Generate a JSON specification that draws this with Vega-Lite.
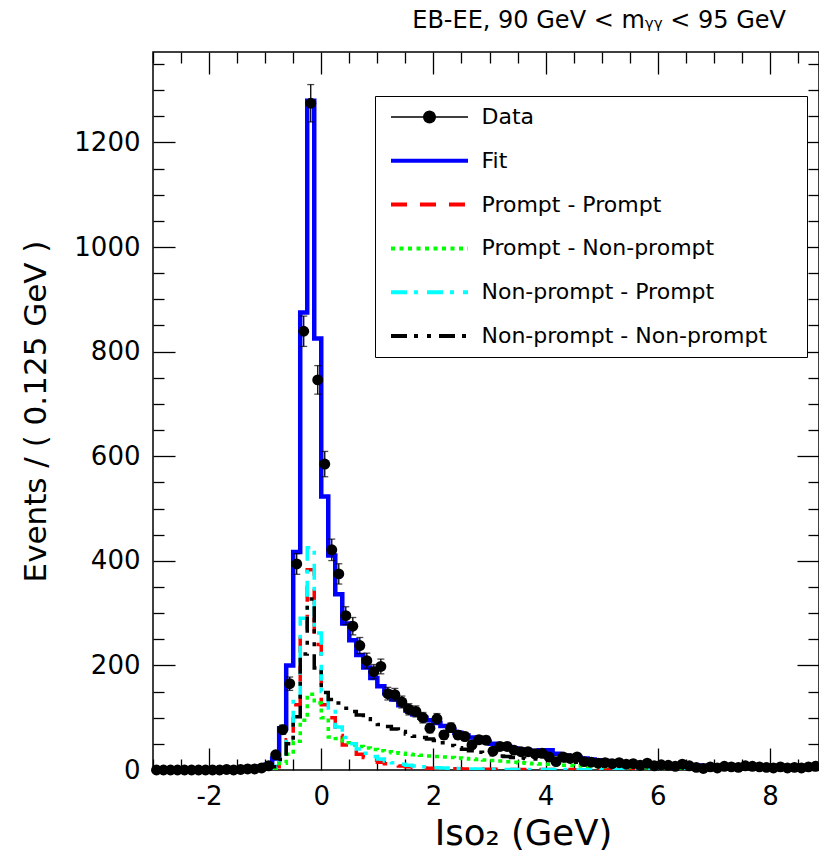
{
  "$schema": "https://vega.github.io/schema/vega-lite/v6.json",
  "width": 666,
  "height": 718,
  "autosize": {"type": "none"},
  "padding": {"left": 153, "top": 52, "right": 0, "bottom": 84},
  "background": "white",
  "title": {"text": "EB-EE,  90 GeV < mᵧᵧ < 95 GeV", "anchor": "end", "frame": "group", "orient": "top", "offset": 26, "dx": -33, "dy": 27, "font": "DejaVu Sans", "fontSize": 24, "fontWeight": "normal", "color": "black", "baseline": "alphabetic"},
  "datasets": {
    "bins": [
      {"x": -2.9375, "d": 0, "lo": 0, "hi": 0, "fit": 0, "pp": 0, "pnp": 0, "npp": 0, "npnp": 0},
      {"x": -2.8125, "d": 0, "lo": 0, "hi": 0, "fit": 0, "pp": 0, "pnp": 0, "npp": 0, "npnp": 0},
      {"x": -2.6875, "d": 0, "lo": 0, "hi": 0, "fit": 0, "pp": 0, "pnp": 0, "npp": 0, "npnp": 0},
      {"x": -2.5625, "d": 0, "lo": 0, "hi": 0, "fit": 0, "pp": 0, "pnp": 0, "npp": 0, "npnp": 0},
      {"x": -2.4375, "d": 0, "lo": 0, "hi": 0, "fit": 0, "pp": 0, "pnp": 0, "npp": 0, "npnp": 0},
      {"x": -2.3125, "d": 0, "lo": 0, "hi": 0, "fit": 0, "pp": 0, "pnp": 0, "npp": 0, "npnp": 0},
      {"x": -2.1875, "d": 0, "lo": 0, "hi": 0, "fit": 0, "pp": 0, "pnp": 0, "npp": 0, "npnp": 0},
      {"x": -2.0625, "d": 0, "lo": 0, "hi": 0, "fit": 0, "pp": 0, "pnp": 0, "npp": 0, "npnp": 0},
      {"x": -1.9375, "d": 0, "lo": 0, "hi": 0, "fit": 0, "pp": 0, "pnp": 0, "npp": 0, "npnp": 0},
      {"x": -1.8125, "d": 0, "lo": 0, "hi": 0, "fit": 0, "pp": 0, "pnp": 0, "npp": 0, "npnp": 0},
      {"x": -1.6875, "d": 1, "lo": 0, "hi": 2, "fit": 0.1, "pp": 0, "pnp": 0, "npp": 0, "npnp": 0},
      {"x": -1.5625, "d": 0, "lo": 0, "hi": 0, "fit": 0.2, "pp": 0.05, "pnp": 0.02, "npp": 0.08, "npnp": 0.05},
      {"x": -1.4375, "d": 1, "lo": 0, "hi": 2, "fit": 0.4, "pp": 0.1, "pnp": 0.05, "npp": 0.15, "npnp": 0.1},
      {"x": -1.3125, "d": 2, "lo": 0.59, "hi": 3.41, "fit": 0.8, "pp": 0.2, "pnp": 0.1, "npp": 0.3, "npnp": 0.2},
      {"x": -1.1875, "d": 2, "lo": 0.59, "hi": 3.41, "fit": 1.5, "pp": 0.4, "pnp": 0.2, "npp": 0.5, "npnp": 0.4},
      {"x": -1.0625, "d": 4, "lo": 2, "hi": 6, "fit": 3.5, "pp": 0.9, "pnp": 0.5, "npp": 1.2, "npnp": 0.9},
      {"x": -0.9375, "d": 8, "lo": 5.17, "hi": 10.83, "fit": 10, "pp": 2.5, "pnp": 1.5, "npp": 3.5, "npnp": 2.5},
      {"x": -0.8125, "d": 29, "lo": 23.6, "hi": 34.4, "fit": 22, "pp": 6, "pnp": 3, "npp": 7, "npnp": 6},
      {"x": -0.6875, "d": 77, "lo": 68.2, "hi": 85.8, "fit": 80, "pp": 22, "pnp": 13, "npp": 25, "npnp": 20},
      {"x": -0.5625, "d": 165, "lo": 152.2, "hi": 177.8, "fit": 200, "pp": 58, "pnp": 30, "npp": 62, "npnp": 50},
      {"x": -0.4375, "d": 394, "lo": 374.2, "hi": 413.8, "fit": 417, "pp": 125, "pnp": 55, "npp": 135, "npnp": 102},
      {"x": -0.3125, "d": 839, "lo": 810, "hi": 868, "fit": 875, "pp": 268, "pnp": 95, "npp": 290, "npnp": 222},
      {"x": -0.1875, "d": 1275, "lo": 1239.3, "hi": 1310.7, "fit": 1280, "pp": 383, "pnp": 145, "npp": 425, "npnp": 327},
      {"x": -0.0625, "d": 746, "lo": 718.7, "hi": 773.3, "fit": 825, "pp": 240, "pnp": 128, "npp": 262, "npnp": 195},
      {"x": 0.0625, "d": 585, "lo": 560.8, "hi": 609.2, "fit": 523, "pp": 125, "pnp": 100, "npp": 150, "npnp": 148},
      {"x": 0.1875, "d": 421, "lo": 400.5, "hi": 441.5, "fit": 410, "pp": 100, "pnp": 63, "npp": 112, "npnp": 135},
      {"x": 0.3125, "d": 375, "lo": 355.6, "hi": 394.4, "fit": 336, "pp": 66, "pnp": 60, "npp": 82, "npnp": 128},
      {"x": 0.4375, "d": 295, "lo": 277.8, "hi": 312.2, "fit": 280, "pp": 48, "pnp": 52, "npp": 62, "npnp": 118},
      {"x": 0.5625, "d": 275, "lo": 258.4, "hi": 291.6, "fit": 248, "pp": 38, "pnp": 48, "npp": 50, "npnp": 112},
      {"x": 0.6875, "d": 238, "lo": 222.6, "hi": 253.4, "fit": 220, "pp": 30, "pnp": 45, "npp": 40, "npnp": 105},
      {"x": 0.8125, "d": 209, "lo": 194.5, "hi": 223.5, "fit": 196, "pp": 24, "pnp": 42, "npp": 32, "npnp": 98},
      {"x": 0.9375, "d": 188, "lo": 174.3, "hi": 201.7, "fit": 176, "pp": 19, "pnp": 39, "npp": 26, "npnp": 92},
      {"x": 1.0625, "d": 198, "lo": 183.9, "hi": 212.1, "fit": 160, "pp": 15, "pnp": 37, "npp": 21, "npnp": 87},
      {"x": 1.1875, "d": 146, "lo": 133.9, "hi": 158.1, "fit": 147, "pp": 12, "pnp": 35, "npp": 17, "npnp": 83},
      {"x": 1.3125, "d": 144, "lo": 132, "hi": 156, "fit": 135, "pp": 9.5, "pnp": 33, "npp": 14, "npnp": 78.5},
      {"x": 1.4375, "d": 130, "lo": 118.6, "hi": 141.4, "fit": 124, "pp": 7.5, "pnp": 32, "npp": 11, "npnp": 73.5},
      {"x": 1.5625, "d": 116, "lo": 105.2, "hi": 126.8, "fit": 114, "pp": 6, "pnp": 30, "npp": 9, "npnp": 69},
      {"x": 1.6875, "d": 112, "lo": 101.4, "hi": 122.6, "fit": 106, "pp": 5, "pnp": 29, "npp": 7.5, "npnp": 64.5},
      {"x": 1.8125, "d": 100, "lo": 90, "hi": 110, "fit": 100, "pp": 4, "pnp": 28, "npp": 6, "npnp": 62},
      {"x": 1.9375, "d": 80, "lo": 71.1, "hi": 88.9, "fit": 95, "pp": 3.5, "pnp": 27, "npp": 5, "npnp": 59.5},
      {"x": 2.0625, "d": 98, "lo": 88.1, "hi": 107.9, "fit": 90, "pp": 3, "pnp": 26, "npp": 4.5, "npnp": 56.5},
      {"x": 2.1875, "d": 67, "lo": 58.8, "hi": 75.2, "fit": 84, "pp": 3, "pnp": 25, "npp": 4, "npnp": 52},
      {"x": 2.3125, "d": 81, "lo": 72, "hi": 90, "fit": 77, "pp": 2.5, "pnp": 24, "npp": 3.5, "npnp": 47},
      {"x": 2.4375, "d": 67, "lo": 58.8, "hi": 75.2, "fit": 71, "pp": 2.5, "pnp": 23, "npp": 3, "npnp": 42.5},
      {"x": 2.5625, "d": 64, "lo": 56, "hi": 72, "fit": 66, "pp": 2, "pnp": 22, "npp": 2.5, "npnp": 39.5},
      {"x": 2.6875, "d": 48, "lo": 41.1, "hi": 54.9, "fit": 62, "pp": 2, "pnp": 21, "npp": 2, "npnp": 37},
      {"x": 2.8125, "d": 58, "lo": 50.4, "hi": 65.6, "fit": 58, "pp": 2, "pnp": 20, "npp": 2, "npnp": 34},
      {"x": 2.9375, "d": 57, "lo": 49.5, "hi": 64.5, "fit": 54, "pp": 1.5, "pnp": 19, "npp": 1.5, "npnp": 32},
      {"x": 3.0625, "d": 36, "lo": 30, "hi": 42, "fit": 50, "pp": 1.5, "pnp": 18, "npp": 1.5, "npnp": 29},
      {"x": 3.1875, "d": 45, "lo": 38.3, "hi": 51.7, "fit": 47, "pp": 1.5, "pnp": 17, "npp": 1.5, "npnp": 27},
      {"x": 3.3125, "d": 45, "lo": 38.3, "hi": 51.7, "fit": 44, "pp": 1, "pnp": 16, "npp": 1, "npnp": 26},
      {"x": 3.4375, "d": 38, "lo": 31.8, "hi": 44.2, "fit": 41, "pp": 1, "pnp": 15, "npp": 1, "npnp": 24},
      {"x": 3.5625, "d": 35, "lo": 29.1, "hi": 40.9, "fit": 39, "pp": 1, "pnp": 14, "npp": 1, "npnp": 23},
      {"x": 3.6875, "d": 35, "lo": 29.1, "hi": 40.9, "fit": 37, "pp": 1, "pnp": 13, "npp": 1, "npnp": 22},
      {"x": 3.8125, "d": 31, "lo": 25.4, "hi": 36.6, "fit": 35, "pp": 1, "pnp": 12, "npp": 1, "npnp": 21},
      {"x": 3.9375, "d": 32, "lo": 26.3, "hi": 37.7, "fit": 38, "pp": 1, "pnp": 11.5, "npp": 1, "npnp": 24.5},
      {"x": 4.0625, "d": 25, "lo": 20, "hi": 30, "fit": 38, "pp": 1, "pnp": 11, "npp": 1, "npnp": 25},
      {"x": 4.1875, "d": 16, "lo": 12, "hi": 20, "fit": 31, "pp": 1, "pnp": 10, "npp": 1, "npnp": 19},
      {"x": 4.3125, "d": 25, "lo": 20, "hi": 30, "fit": 28, "pp": 0.8, "pnp": 9, "npp": 0.8, "npnp": 17.4},
      {"x": 4.4375, "d": 22, "lo": 17.3, "hi": 26.7, "fit": 26, "pp": 0.8, "pnp": 8.5, "npp": 0.8, "npnp": 15.9},
      {"x": 4.5625, "d": 25, "lo": 20, "hi": 30, "fit": 24, "pp": 0.7, "pnp": 8, "npp": 0.7, "npnp": 14.6},
      {"x": 4.6875, "d": 16, "lo": 12, "hi": 20, "fit": 22, "pp": 0.7, "pnp": 7.5, "npp": 0.7, "npnp": 13.1},
      {"x": 4.8125, "d": 15, "lo": 11.1, "hi": 18.9, "fit": 20, "pp": 0.6, "pnp": 7, "npp": 0.6, "npnp": 11.8},
      {"x": 4.9375, "d": 13, "lo": 9.4, "hi": 16.6, "fit": 18.5, "pp": 0.6, "pnp": 6.5, "npp": 0.6, "npnp": 10.8},
      {"x": 5.0625, "d": 14, "lo": 10.3, "hi": 17.7, "fit": 17, "pp": 0.5, "pnp": 6, "npp": 0.5, "npnp": 10},
      {"x": 5.1875, "d": 12, "lo": 8.5, "hi": 15.5, "fit": 16, "pp": 0.5, "pnp": 5.7, "npp": 0.5, "npnp": 9.3},
      {"x": 5.3125, "d": 14, "lo": 10.3, "hi": 17.7, "fit": 15, "pp": 0.5, "pnp": 5.4, "npp": 0.5, "npnp": 8.6},
      {"x": 5.4375, "d": 11, "lo": 7.7, "hi": 14.3, "fit": 14, "pp": 0.4, "pnp": 5.1, "npp": 0.4, "npnp": 8.1},
      {"x": 5.5625, "d": 12, "lo": 8.5, "hi": 15.5, "fit": 13.2, "pp": 0.4, "pnp": 4.8, "npp": 0.4, "npnp": 7.6},
      {"x": 5.6875, "d": 9, "lo": 6, "hi": 12, "fit": 12.5, "pp": 0.4, "pnp": 4.5, "npp": 0.4, "npnp": 7.2},
      {"x": 5.8125, "d": 13, "lo": 9.4, "hi": 16.6, "fit": 11.8, "pp": 0.3, "pnp": 4.3, "npp": 0.3, "npnp": 6.9},
      {"x": 5.9375, "d": 8, "lo": 5.2, "hi": 10.8, "fit": 11.2, "pp": 0.3, "pnp": 4.1, "npp": 0.3, "npnp": 6.5},
      {"x": 6.0625, "d": 10, "lo": 6.8, "hi": 13.2, "fit": 10.6, "pp": 0.3, "pnp": 3.9, "npp": 0.3, "npnp": 6.1},
      {"x": 6.1875, "d": 9, "lo": 6, "hi": 12, "fit": 10, "pp": 0.3, "pnp": 3.7, "npp": 0.3, "npnp": 5.7},
      {"x": 6.3125, "d": 7, "lo": 4.4, "hi": 9.6, "fit": 9.6, "pp": 0.2, "pnp": 3.6, "npp": 0.2, "npnp": 5.6},
      {"x": 6.4375, "d": 11, "lo": 7.7, "hi": 14.3, "fit": 9.2, "pp": 0.2, "pnp": 3.4, "npp": 0.2, "npnp": 5.4},
      {"x": 6.5625, "d": 8, "lo": 5.2, "hi": 10.8, "fit": 8.9, "pp": 0.2, "pnp": 3.3, "npp": 0.2, "npnp": 5.2},
      {"x": 6.6875, "d": 5, "lo": 2.8, "hi": 7.2, "fit": 8.6, "pp": 0.2, "pnp": 3.2, "npp": 0.2, "npnp": 5},
      {"x": 6.8125, "d": 3, "lo": 1.3, "hi": 4.7, "fit": 8.3, "pp": 0.2, "pnp": 3.1, "npp": 0.2, "npnp": 4.8},
      {"x": 6.9375, "d": 6, "lo": 3.6, "hi": 8.4, "fit": 8, "pp": 0.2, "pnp": 3, "npp": 0.2, "npnp": 4.6},
      {"x": 7.0625, "d": 4, "lo": 2, "hi": 6, "fit": 7.8, "pp": 0.2, "pnp": 2.9, "npp": 0.2, "npnp": 4.5},
      {"x": 7.1875, "d": 7, "lo": 4.4, "hi": 9.6, "fit": 7.6, "pp": 0.2, "pnp": 2.8, "npp": 0.2, "npnp": 4.4},
      {"x": 7.3125, "d": 6, "lo": 3.6, "hi": 8.4, "fit": 7.4, "pp": 0.2, "pnp": 2.7, "npp": 0.2, "npnp": 4.3},
      {"x": 7.4375, "d": 5, "lo": 2.8, "hi": 7.2, "fit": 7.2, "pp": 0.2, "pnp": 2.7, "npp": 0.2, "npnp": 4.1},
      {"x": 7.5625, "d": 8, "lo": 5.2, "hi": 10.8, "fit": 7, "pp": 0.2, "pnp": 2.6, "npp": 0.2, "npnp": 4},
      {"x": 7.6875, "d": 7, "lo": 4.4, "hi": 9.6, "fit": 6.8, "pp": 0.2, "pnp": 2.5, "npp": 0.2, "npnp": 3.9},
      {"x": 7.8125, "d": 6, "lo": 3.6, "hi": 8.4, "fit": 6.7, "pp": 0.2, "pnp": 2.5, "npp": 0.2, "npnp": 3.8},
      {"x": 7.9375, "d": 5, "lo": 2.8, "hi": 7.2, "fit": 6.6, "pp": 0.2, "pnp": 2.4, "npp": 0.2, "npnp": 3.8},
      {"x": 8.0625, "d": 4, "lo": 2, "hi": 6, "fit": 6.5, "pp": 0.2, "pnp": 2.4, "npp": 0.2, "npnp": 3.7},
      {"x": 8.1875, "d": 6, "lo": 3.6, "hi": 8.4, "fit": 6.4, "pp": 0.2, "pnp": 2.4, "npp": 0.2, "npnp": 3.6},
      {"x": 8.3125, "d": 4, "lo": 2, "hi": 6, "fit": 6.3, "pp": 0.2, "pnp": 2.3, "npp": 0.2, "npnp": 3.6},
      {"x": 8.4375, "d": 5, "lo": 2.8, "hi": 7.2, "fit": 6.2, "pp": 0.2, "pnp": 2.3, "npp": 0.2, "npnp": 3.5},
      {"x": 8.5625, "d": 4, "lo": 2, "hi": 6, "fit": 6.1, "pp": 0.2, "pnp": 2.3, "npp": 0.2, "npnp": 3.4},
      {"x": 8.6875, "d": 6, "lo": 3.6, "hi": 8.4, "fit": 6, "pp": 0.2, "pnp": 2.2, "npp": 0.2, "npnp": 3.4},
      {"x": 8.8125, "d": 7, "lo": 4.4, "hi": 9.6, "fit": 6, "pp": 0.2, "pnp": 2.2, "npp": 0.2, "npnp": 3.4}
    ]
  },
  "data": {"name": "bins"},
  "layer": [
    {
      "transform": [{"fold": ["fit"], "as": ["series", "value"]}],
      "mark": {"type": "line", "interpolate": "step", "strokeWidth": 4.5, "clip": true},
      "encoding": {
        "x": {"field": "x", "type": "quantitative", "scale": {"domain": [-3, 8.875], "nice": false, "zero": false},
          "axis": {"orient": "bottom", "values": [-3, -2.5, -2, -1.5, -1, -0.5, 0, 0.5, 1, 1.5, 2, 2.5, 3, 3.5, 4, 4.5, 5, 5.5, 6, 6.5, 7, 7.5, 8, 8.5],
            "labelExpr": "datum.value % 2 === 0 ? '' + datum.value : ''",
            "tickSize": {"condition": {"test": "datum.value % 2 === 0", "value": -22}, "value": -11},
            "labelPadding": 35, "labelFlush": false, "labelOverlap": false,
            "title": "Iso₂ (GeV)", "titleFontSize": 35.5, "titleX": 370, "titleY": 74, "titleAlign": "center", "titleBaseline": "alphabetic"}},
        "y": {"field": "value", "type": "quantitative", "scale": {"domain": [0, 1373], "nice": false},
          "axis": {"orient": "left", "values": [0, 50, 100, 150, 200, 250, 300, 350, 400, 450, 500, 550, 600, 650, 700, 750, 800, 850, 900, 950, 1000, 1050, 1100, 1150, 1200, 1250, 1300, 1350],
            "labelExpr": "datum.value % 200 === 0 ? '' + datum.value : ''",
            "tickSize": {"condition": {"test": "datum.value % 200 === 0", "value": -22}, "value": -11},
            "labelPadding": 35, "labelFlush": false, "labelOverlap": false,
            "title": "Events / ( 0.125 GeV )", "titleFontSize": 31, "titleX": -108, "titleY": 359, "titleAngle": -90, "titleAlign": "center", "titleBaseline": "alphabetic"}},
        "color": {"field": "series", "type": "nominal",
          "scale": {"domain": ["data", "fit", "pp", "pnp", "npp", "npnp"], "range": ["black", "#0000ff", "#ff0000", "#00ff00", "#00ffff", "black"]},
          "legend": {"title": "MM", "titleOrient": "right", "titleColor": "transparent", "titleFontSize": 10, "titlePadding": 10,
            "orient": "none", "legendX": 222, "legendY": 44, "padding": 10, "rowPadding": 21.8, "labelOffset": 41, "symbolOffset": 33.5,
            "symbolType": "stroke", "symbolSize": 5929, "symbolStrokeWidth": 4, "labelFont": "DejaVu Sans", "labelFontSize": 22, "labelColor": "black", "labelLimit": 500,
            "strokeColor": "black", "fillColor": "white",
            "labelExpr": "datum.value === 'data' ? 'Data' : datum.value === 'fit' ? 'Fit' : datum.value === 'pp' ? 'Prompt - Prompt' : datum.value === 'pnp' ? 'Prompt - Non-prompt' : datum.value === 'npp' ? 'Non-prompt - Prompt' : 'Non-prompt - Non-prompt'",
            "encode": {"symbols": {"update": {
              "shape": {"signal": "datum.value === 'data' ? 'M-1,0H1M0.15,0A0.15,0.15,0,1,1,-0.15,0A0.15,0.15,0,1,1,0.15,0Z' : 'stroke'"},
              "fill": {"signal": "datum.value === 'data' ? 'black' : 'transparent'"},
              "strokeWidth": {"signal": "datum.value === 'data' ? 1.3 : 4"}}}}}},
        "strokeDash": {"field": "series", "type": "nominal",
          "scale": {"domain": ["data", "fit", "pp", "pnp", "npp", "npnp"], "range": [[1, 0], [1, 0], [16, 13], [4, 4.5], [16, 7, 4, 9], [16, 7, 4, 9, 4, 8]]},
          "legend": {"title": "MM", "titleOrient": "right", "titleColor": "transparent", "titleFontSize": 10, "titlePadding": 10,
            "orient": "none", "legendX": 222, "legendY": 44, "padding": 10, "rowPadding": 21.8, "labelOffset": 41, "symbolOffset": 33.5,
            "symbolType": "stroke", "symbolSize": 5929, "symbolStrokeWidth": 4, "labelFont": "DejaVu Sans", "labelFontSize": 22, "labelColor": "black", "labelLimit": 500,
            "strokeColor": "black", "fillColor": "white",
            "labelExpr": "datum.value === 'data' ? 'Data' : datum.value === 'fit' ? 'Fit' : datum.value === 'pp' ? 'Prompt - Prompt' : datum.value === 'pnp' ? 'Prompt - Non-prompt' : datum.value === 'npp' ? 'Non-prompt - Prompt' : 'Non-prompt - Non-prompt'",
            "encode": {"symbols": {"update": {
              "shape": {"signal": "datum.value === 'data' ? 'M-1,0H1M0.15,0A0.15,0.15,0,1,1,-0.15,0A0.15,0.15,0,1,1,0.15,0Z' : 'stroke'"},
              "fill": {"signal": "datum.value === 'data' ? 'black' : 'transparent'"},
              "strokeWidth": {"signal": "datum.value === 'data' ? 1.3 : 4"}}}}}}
      }
    },
    {
      "transform": [{"fold": ["pp", "pnp", "npp", "npnp"], "as": ["series", "value"]}],
      "mark": {"type": "line", "interpolate": "step", "strokeWidth": 3.5, "clip": true},
      "encoding": {
        "x": {"field": "x", "type": "quantitative",
          "axis": {"orient": "top", "values": [-3, -2.5, -2, -1.5, -1, -0.5, 0, 0.5, 1, 1.5, 2, 2.5, 3, 3.5, 4, 4.5, 5, 5.5, 6, 6.5, 7, 7.5, 8, 8.5],
            "labels": false, "title": null,
            "tickSize": {"condition": {"test": "datum.value % 2 === 0", "value": -22}, "value": -11}}},
        "y": {"field": "value", "type": "quantitative",
          "axis": {"orient": "right", "values": [0, 50, 100, 150, 200, 250, 300, 350, 400, 450, 500, 550, 600, 650, 700, 750, 800, 850, 900, 950, 1000, 1050, 1100, 1150, 1200, 1250, 1300, 1350],
            "labels": false, "title": null,
            "tickSize": {"condition": {"test": "datum.value % 200 === 0", "value": -22}, "value": -11}}},
        "color": {"field": "series", "type": "nominal"},
        "strokeDash": {"field": "series", "type": "nominal"}
      }
    },
    {
      "mark": {"type": "errorbar", "color": "black", "ticks": {"size": 7, "thickness": 1.3, "color": "black"}, "rule": {"strokeWidth": 1.3, "color": "black"}},
      "encoding": {
        "x": {"field": "x", "type": "quantitative", "axis": null},
        "y": {"field": "lo", "type": "quantitative", "axis": null},
        "y2": {"field": "hi"}
      }
    },
    {
      "mark": {"type": "point", "filled": true, "size": 120, "color": "black", "opacity": 1},
      "encoding": {
        "x": {"field": "x", "type": "quantitative", "axis": null},
        "y": {"field": "d", "type": "quantitative", "axis": null}
      }
    }
  ],
  "resolve": {"axis": {"x": "independent", "y": "independent"}},
  "config": {
    "font": "DejaVu Sans",
    "view": {"stroke": "black", "strokeWidth": 1.5},
    "axis": {"domain": false, "grid": false, "labelFont": "DejaVu Sans", "labelFontSize": 26, "labelColor": "black", "tickColor": "black", "tickWidth": 1.3,
      "titleFont": "DejaVu Sans", "titleFontWeight": "normal", "titleColor": "black"}
  }
}
